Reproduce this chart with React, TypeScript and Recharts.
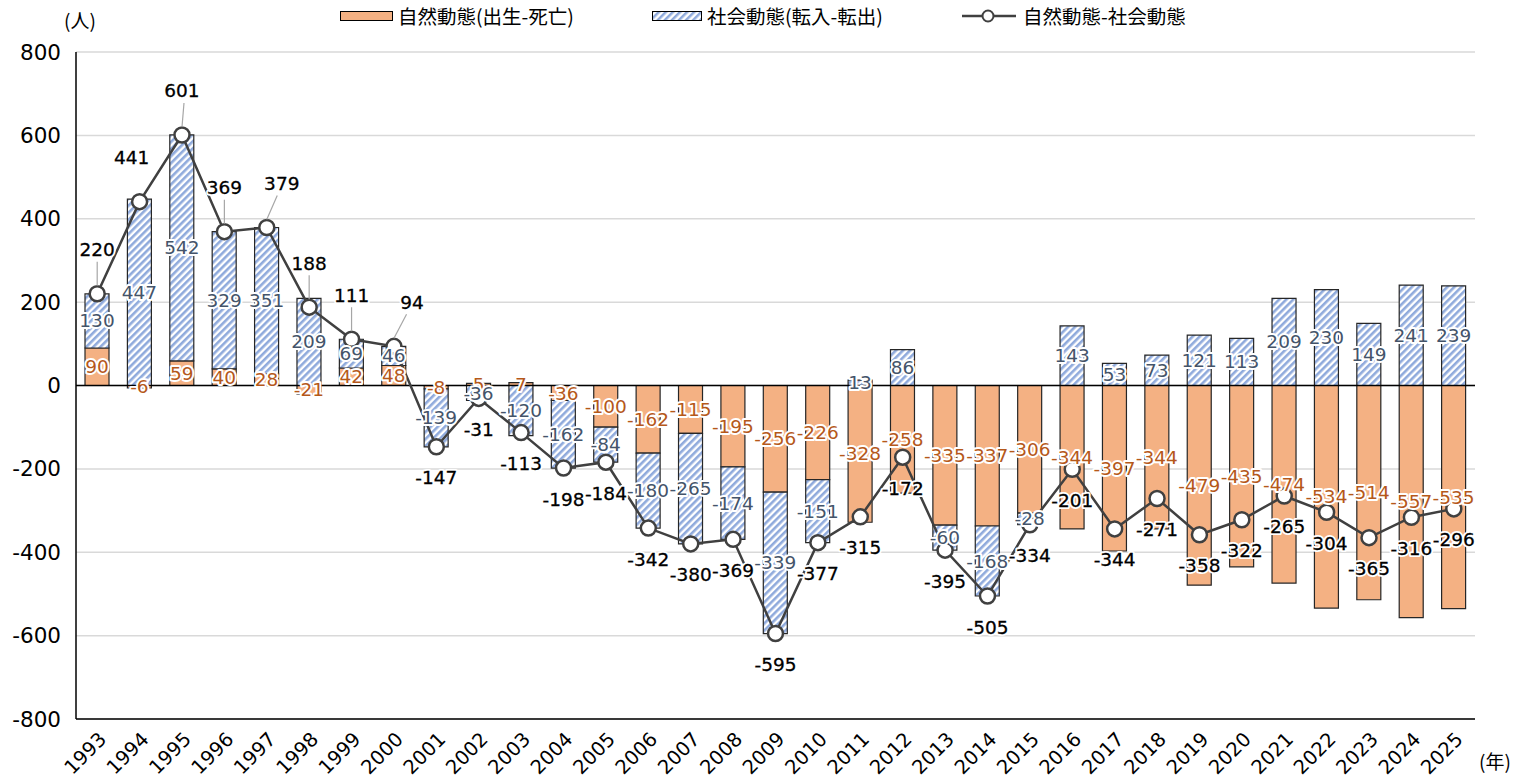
import { ComposedChart, Bar, Line, XAxis, YAxis, CartesianGrid, ReferenceLine, LabelList } from 'recharts';

const years = ['1993', '1994', '1995', '1996', '1997', '1998', '1999', '2000', '2001', '2002', '2003', '2004', '2005', '2006', '2007', '2008', '2009', '2010', '2011', '2012', '2013', '2014', '2015', '2016', '2017', '2018', '2019', '2020', '2021', '2022', '2023', '2024', '2025'];
const natural = [90, -6, 59, 40, 28, -21, 42, 48, -8, 5, 7, -36, -100, -162, -115, -195, -256, -226, -328, -258, -335, -337, -306, -344, -397, -344, -479, -435, -474, -534, -514, -557, -535];
const social = [130, 447, 542, 329, 351, 209, 69, 46, -139, -36, -120, -162, -84, -180, -265, -174, -339, -151, 13, 86, -60, -168, -28, 143, 53, 73, 121, 113, 209, 230, 149, 241, 239];
const total = [220, 441, 601, 369, 379, 188, 111, 94, -147, -31, -113, -198, -184, -342, -380, -369, -595, -377, -315, -172, -395, -505, -334, -201, -344, -271, -358, -322, -265, -304, -365, -316, -296];
const yTicks = [-800, -600, -400, -200, 0, 200, 400, 600, 800];

const seriesNames = ['自然動態(出生-死亡)', '社会動態(転入-転出)', '自然動態-社会動態'];

// a few labels sit beside the point in the original
const labelShift: Record<string, number> = { '1994': -8, '1997': 15, '2000': 18 };

const data = years.map((y, i) => ({ year: y, natural: natural[i], social: social[i], total: total[i] }));

const CJK = '"Noto Sans CJK JP", "Noto Sans", sans-serif';
const NUM = '"DejaVu Sans", "Noto Sans CJK JP", sans-serif';
const ORANGE = '#F4B183';
const HATCH = '#8FAADC';
const LINE = '#404040';

function barLabel(color: string) {
  return (props: any) => {
    const { x, y, width, height, value } = props;
    const cx = x + width / 2;
    const cy = y + height / 2;
    return (
      <text x={cx} y={cy} textAnchor="middle" dominantBaseline="central" fontSize={18.5} fontFamily={NUM}
        fill={color} stroke="#fff" strokeWidth={4} strokeLinejoin="round" paintOrder="stroke">
        {value}
      </text>
    );
  };
}

function TotalLabel(props: any) {
  const { x, y, value, index } = props;
  const yr = years[index];
  const shift = labelShift[yr] || 0;
  const pos = value >= 0;
  const ly = pos ? y - 44 : y + 31;
  const lx = x + shift;
  return (
    <g>
      {pos && yr !== '1994' && yr !== '1995' && (
        <line x1={lx - shift * 0.3} y1={ly + 12} x2={x} y2={y - 8} stroke="#a6a6a6" strokeWidth={1.2} />
      )}
      {yr === '1995' && <line x1={x + 2} y1={ly + 12} x2={x} y2={y - 8} stroke="#a6a6a6" strokeWidth={1.2} />}
      <text x={lx} y={ly} textAnchor="middle" dominantBaseline="central" fontSize={18.5}
        fontFamily={NUM} fill="#fff" stroke="#fff" strokeWidth={4} strokeLinejoin="round">
        {value}
      </text>
      <text x={lx} y={ly} textAnchor="middle" dominantBaseline="central" fontSize={18.5}
        fontFamily={NUM} fill="#000" stroke="#000" strokeWidth={0.3}>
        {value}
      </text>
    </g>
  );
}

function XTick(props: any) {
  const { x, y, payload } = props;
  const ax = x;
  const ay = y + 3;
  return (
    <text x={ax} y={ay} dy="0.75em" textAnchor="end" fontSize={19.5} fontFamily={NUM} fill="#000"
      transform={`rotate(-45, ${ax}, ${ay})`}>
      {payload.value}
    </text>
  );
}

function YTick(props: any) {
  const { x, y, payload } = props;
  return (
    <text x={x - 7} y={y} textAnchor="end" dominantBaseline="central" fontSize={21.5} fontFamily={NUM} fill="#000">
      {payload.value}
    </text>
  );
}

function LegendBox() {
  const item = { display: 'flex', alignItems: 'center', position: 'absolute' as const, top: 4 };
  const txt = { fontSize: 19.5, fontFamily: CJK, color: '#000', marginLeft: 5, lineHeight: '24px' };
  return (
    <>
      <div style={{ ...item, left: 340 }}>
        <svg width={53} height={12}><rect x={0.5} y={1.5} width={52} height={9} fill={ORANGE} stroke="#000" /></svg>
        <span style={txt}>{seriesNames[0]}</span>
      </div>
      <div style={{ ...item, left: 652 }}>
        <svg width={50} height={12}>
          <rect x={0.5} y={1.5} width={49} height={9} fill="url(#hatchLegend)" stroke="#000" />
          <defs>
            <pattern id="hatchLegend" width={5} height={5} patternUnits="userSpaceOnUse" patternTransform="rotate(45)">
              <rect width={5} height={5} fill="#fff" />
              <rect width={2.5} height={5} fill={HATCH} />
            </pattern>
          </defs>
        </svg>
        <span style={txt}>{seriesNames[1]}</span>
      </div>
      <div style={{ ...item, left: 962 }}>
        <svg width={54} height={16}>
          <line x1={0} y1={8} x2={54} y2={8} stroke={LINE} strokeWidth={2.5} />
          <circle cx={26} cy={8} r={5.5} fill="#fff" stroke={LINE} strokeWidth={2} />
        </svg>
        <span style={{ ...txt, marginLeft: 7 }}>{seriesNames[2]}</span>
      </div>
    </>
  );
}

export default function App() {
  return (
    <div style={{ position: 'absolute', left: 0, top: 0, width: 1519, height: 780, background: '#fff', overflow: 'hidden' }}>
      <ComposedChart width={1519} height={780} data={data} stackOffset="sign"
        margin={{ top: 52, right: 44, bottom: 0, left: 0 }}>
        <defs>
          <pattern id="hatch" width={5} height={5} patternUnits="userSpaceOnUse" patternTransform="rotate(45)">
            <rect width={5} height={5} fill="#fff" />
            <rect width={2.6} height={5} fill={HATCH} />
          </pattern>
        </defs>
        <CartesianGrid vertical={false} stroke="#d9d9d9" strokeWidth={1.5} />
        <XAxis dataKey="year" height={61} interval={0} tick={<XTick />} tickLine={false}
          axisLine={{ stroke: '#000', strokeWidth: 1.5 }} />
        <XAxis dataKey="year" xAxisId="top" orientation="top" height={0} tick={false} tickLine={false}
          axisLine={{ stroke: '#000', strokeWidth: 1.5 }} />
        <YAxis domain={[-800, 800]} ticks={yTicks} width={76} tick={<YTick />} tickLine={false}
          axisLine={{ stroke: '#000', strokeWidth: 1.5 }} allowDataOverflow />
        <YAxis yAxisId="right" orientation="right" width={0} domain={[0, 1]} tick={false} tickLine={false}
          axisLine={{ stroke: '#000', strokeWidth: 1.5 }} />
        <Bar dataKey="natural" stackId="a" barSize={24} fill={ORANGE} stroke="#262626" strokeWidth={1.2}
          isAnimationActive={false} name={seriesNames[0]}>
          <LabelList dataKey="natural" content={barLabel('#B5581A')} />
        </Bar>
        <Bar dataKey="social" stackId="a" barSize={24} fill="url(#hatch)" stroke="#262626" strokeWidth={1.2}
          isAnimationActive={false} name={seriesNames[1]}>
          <LabelList dataKey="social" content={barLabel('#44546A')} />
        </Bar>
        <ReferenceLine y={0} stroke="#000" strokeWidth={1.5} />
        <Line dataKey="total" stroke={LINE} strokeWidth={2.5} isAnimationActive={false} name={seriesNames[2]}
          dot={{ r: 7.5, fill: '#fff', stroke: LINE, strokeWidth: 2.5 }} activeDot={false}>
          <LabelList dataKey="total" content={<TotalLabel />} />
        </Line>
      </ComposedChart>
      <LegendBox />
      <div style={{ position: 'absolute', left: 64, top: 6, fontSize: 19, fontFamily: CJK }}>(人)</div>
      <div style={{ position: 'absolute', left: 1479, top: 747, fontSize: 19, fontFamily: CJK }}>(年)</div>
    </div>
  );
}
